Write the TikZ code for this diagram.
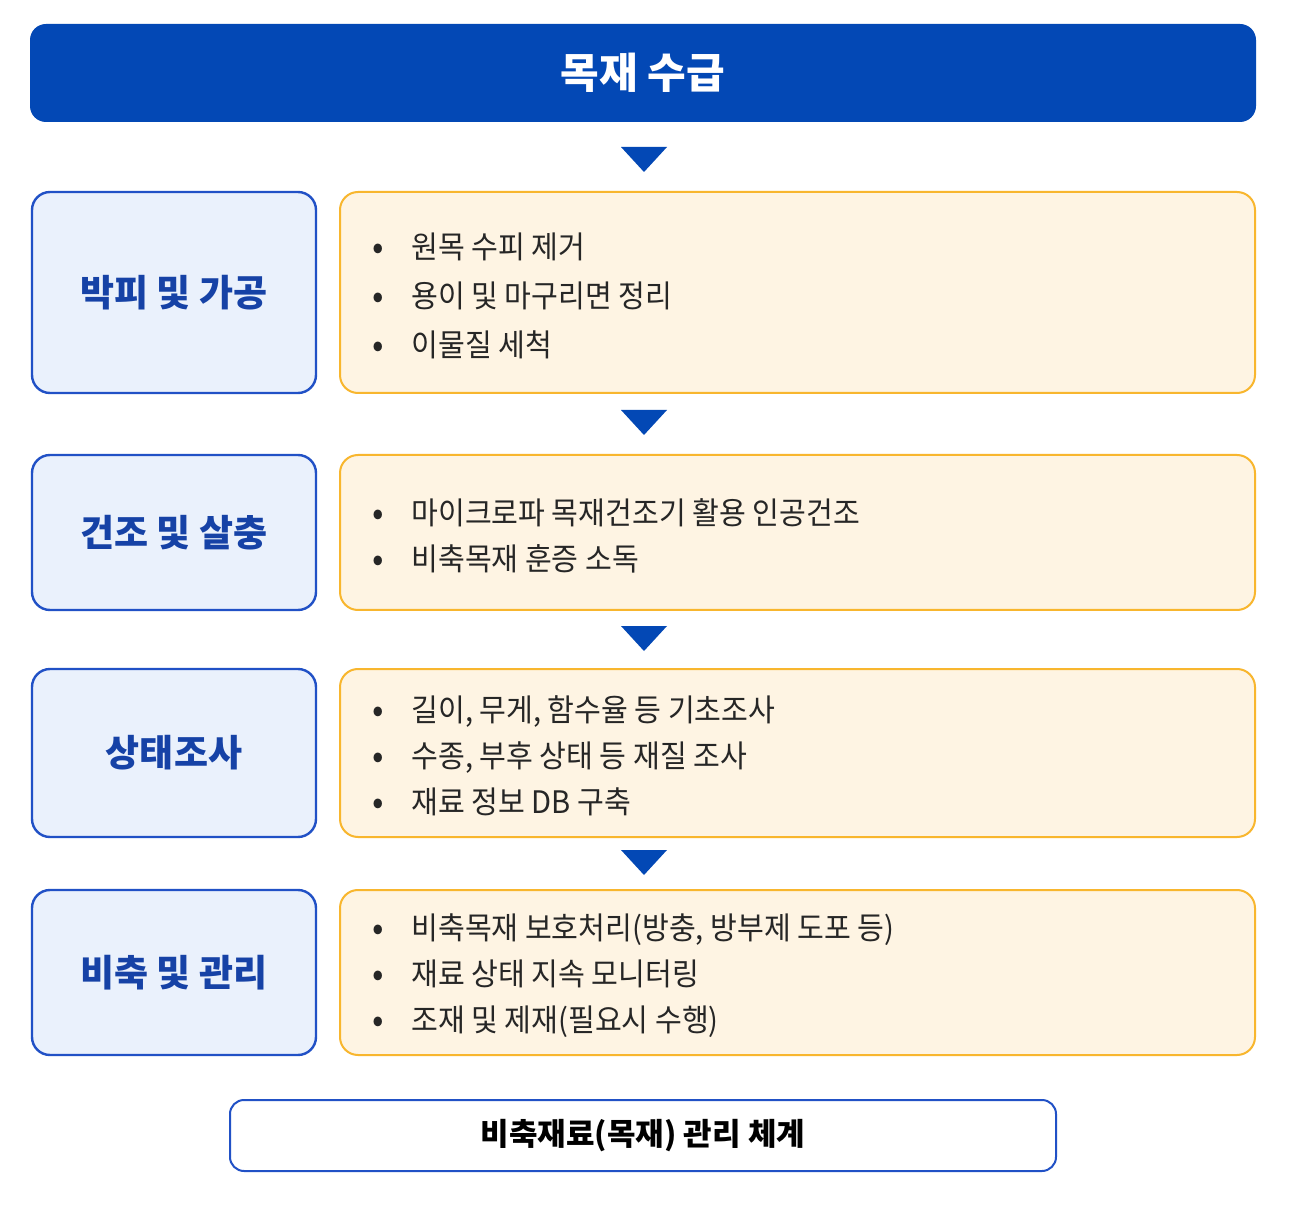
\documentclass[tikz,border=0pt]{standalone}
\usepackage{fontspec}
\usetikzlibrary{positioning}
\newfontfamily\krfont{Noto Sans CJK KR}
\newfontfamily\krnarrow[FakeStretch=0.94]{Noto Sans CJK KR}
\definecolor{deepblue}{HTML}{0348B5}
\definecolor{stepblue}{HTML}{2151C6}
\definecolor{paleblue}{HTML}{EAF1FC}
\definecolor{labelblue}{HTML}{1642A6}
\definecolor{cream}{HTML}{FEF4E3}
\definecolor{amber}{HTML}{F8B62E}
\newcommand{\itemdot}{\makebox[19.5pt][l]{\raisebox{-0.6pt}{\fontsize{18}{0}\selectfont•}}}
\begin{document}
  \begin{tikzpicture}[x=0.5pt,y=-0.5pt,
      stage/.style={draw=stepblue,line width=1.2pt,fill=paleblue,rounded corners=9pt,minimum width=142pt,text=labelblue,font=\krfont\bfseries\fontsize{18.5}{22}\selectfont},
      task/.style={draw=amber,line width=1pt,fill=cream,rounded corners=9pt,minimum width=457.5pt},
      items/.style={anchor=west,inner sep=0pt,yshift=-1.5pt,align=left,text=black!85,font=\krnarrow\fontsize{15.5}{#1}\selectfont}]
    \fill[white] (0,0) rectangle (1302,1208);
    \useasboundingbox (0,0) rectangle (1302,1208);
    \node[fill=deepblue,rounded corners=8pt,minimum width=613pt,minimum height=49pt,text=white,font=\krfont\bfseries\fontsize{21}{24}\selectfont] (supply) at (643,73) {목재 수급};
    \node[stage,minimum height=100.5pt] (peel) at (174,292.5) {박피 및 가공};
    \node[task,minimum height=100.5pt] (peeltask) at (797.5,292.5) {};
    \node[items=24.5,right=16.5pt of peeltask.west] (peellist) {\itemdot 원목 수피 제거\\\itemdot 용이 및 마구리면 정리\\\itemdot 이물질 세척};
    \node[stage,minimum height=77.5pt] (dry) at (174,532.5) {건조 및 살충};
    \node[task,minimum height=77.5pt] (drytask) at (797.5,532.5) {};
    \node[items=23,right=16.5pt of drytask.west] (drylist) {\itemdot 마이크로파 목재건조기 활용 인공건조\\\itemdot 비축목재 훈증 소독};
    \node[stage,minimum height=84pt] (survey) at (174,753) {상태조사};
    \node[task,minimum height=84pt] (surveytask) at (797.5,753) {};
    \node[items=23,right=16.5pt of surveytask.west] (surveylist) {\itemdot 길이, 무게, 함수율 등 기초조사\\\itemdot 수종, 부후 상태 등 재질 조사\\\itemdot 재료 정보 DB 구축};
    \node[stage,minimum height=82.5pt] (store) at (174,972.5) {비축 및 관리};
    \node[task,minimum height=82.5pt] (storetask) at (797.5,972.5) {};
    \node[items=23,right=16.5pt of storetask.west] (storelist) {\itemdot 비축목재 보호처리(방충, 방부제 도포 등)\\\itemdot 재료 상태 지속 모니터링\\\itemdot 조재 및 제재(필요시 수행)};
    \node[draw=stepblue,line width=1pt,fill=white,rounded corners=7pt,minimum width=413pt,minimum height=35.5pt,font=\krfont\bfseries\fontsize{15.5}{18}\selectfont] (system) at (643,1135.5) {비축재료(목재) 관리 체계};
    \foreach \ty in {147,410,626,850}
      \fill[deepblue] (621,\ty) -- (667,\ty) -- (644,\ty+25) -- cycle;
  \end{tikzpicture}
\end{document}
